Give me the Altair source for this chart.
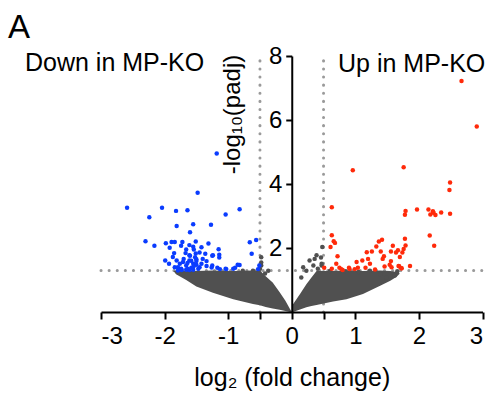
import altair as alt
import pandas as pd

# ---------------- data ----------------
down_x = [-2.59, -2.24, -2.04, -1.82, -1.64, -1.48, -1.18, -1.04, -0.82,
          -1.81, -1.55, -1.27, -1.60,
          -2.30, -2.16, -1.98, -1.89, -1.84, -1.72, -1.51, -1.31,
          -1.92, -1.74, -1.61, -1.42, -1.55,
          -0.66, -0.56, -1.15, -0.63,
          -1.66, -1.54, -1.85, -1.67, -1.51, -1.36, -1.24, -1.14, -1.14, -1.45,
          -1.99, -1.93, -1.81, -1.76, -1.70, -1.61, -1.50, -1.40, -1.34,
          -1.79, -1.66, -1.58, -1.45, -1.25, -1.17, -1.04, -0.92, -0.85, -0.89, -0.51, -0.53,
          -1.87, -1.84, -1.74, -1.66, -1.55, -1.50, -1.42, -1.55, -1.64, -1.71, -1.52, -1.61, -1.47,
          -1.79, -1.73, -1.64, -1.61, -1.54, -1.50, -1.34, -1.26, -1.13, -1.03, -0.82, -1.60, -1.58, -1.25]
down_y = [3.26, 2.96, 3.26, 3.16, 3.18, 3.73, 4.95, 3.05, 3.21,
          2.69, 2.74, 2.73, 2.49,
          2.21, 2.07, 2.15, 2.19, 2.19, 2.19, 2.20, 2.14,
          2.01, 2.07, 2.09, 2.02, 2.04,
          2.18, 2.25, 1.96, 1.82,
          1.95, 1.95, 1.84, 1.84, 1.83, 1.82, 1.77, 1.79, 1.70, 1.86,
          1.61, 1.51, 1.61, 1.51, 1.66, 1.61, 1.59, 1.66, 1.59,
          1.40, 1.45, 1.38, 1.40, 1.45, 1.38, 1.35, 1.35, 1.48, 1.38, 1.45, 1.34,
          1.72, 1.40, 1.35, 1.32, 1.32, 1.48, 1.51, 1.51, 1.53, 1.56, 1.71, 1.77, 1.35,
          1.30, 1.31, 1.35, 1.31, 1.44, 1.65, 1.44, 1.39, 1.34, 1.34, 1.47, 1.76, 1.60, 1.76]

up_x = [0.96, 1.76, 2.67, 2.91, 2.49, 2.48, 0.63,
        1.79, 1.78, 1.97, 2.15, 2.22, 2.23, 2.26, 2.18, 2.35, 2.49,
        2.17, 2.24,
        0.63, 0.66, 0.68, 0.61, 0.72, 0.70, 0.51, 0.63,
        0.75, 0.78, 0.80, 0.90, 0.91, 0.99, 1.02, 1.11, 1.04, 1.16,
        1.18, 1.26, 1.20, 1.23, 1.33, 1.37, 1.42, 1.40, 1.45, 1.43, 1.31, 1.46,
        1.56, 1.59, 1.64, 1.67, 1.70, 1.74, 1.76, 1.79, 1.78, 1.56, 1.54, 1.57,
        1.69, 1.72, 1.86, 1.68, 1.73]
up_y = [4.43, 4.52, 7.22, 5.80, 4.05, 3.81, 3.27,
        3.16, 3.04, 3.20, 3.20, 3.15, 3.10, 3.03, 3.05, 3.11, 3.07,
        2.39, 2.07,
        2.40, 2.21, 2.16, 2.03, 1.74, 1.51, 1.38, 1.35,
        1.38, 1.34, 1.31, 1.38, 1.34, 1.34, 1.56, 1.61, 1.38, 1.38,
        1.87, 1.89, 1.66, 1.51, 2.05, 2.20, 2.26, 1.89, 1.74, 1.66, 1.33, 1.42,
        1.89, 2.07, 1.86, 1.93, 1.72, 1.86, 1.97, 2.08, 2.29, 1.59, 1.48, 1.40,
        1.43, 1.37, 1.44, 1.44, 1.37]

ns_x = [-0.48, -0.48, -0.50, -0.48, -0.61, -0.77, -0.37, -0.42,
        0.28, 0.39, 0.46, 0.34, 0.41, 0.23, 0.15, 0.47, 0.48, 0.36, 0.47, 0.18,
        1.23, 1.39, 1.49, 1.62, 1.66, 1.05, 0.85, 0.60]
ns_y = [1.71, 1.45, 1.35, 1.55, 1.29, 1.29, 1.29, 1.20,
        1.61, 1.77, 1.70, 1.45, 1.35, 1.29, 1.08, 1.45, 2.03, 1.66, 1.51, 1.40,
        1.29, 1.19, 1.08, 1.14, 1.27, 1.25, 1.27, 1.28]

# dense cloud of non-significant genes, read as its outline
left_cloud_x = [-1.86, -1.82, -1.75, -1.66, -1.50, -1.24, -0.92, -0.61, -0.50, -0.41, -0.30, -0.19, -0.10, -0.03, 0.0]
left_cloud_lo = [1.28, 1.18, 1.10, 1.00, 0.80, 0.60, 0.40, 0.25, 0.21, 0.16, 0.11, 0.07, 0.03, 0.0, 0.0]
left_cloud_hi = [1.28, 1.30, 1.29, 1.30, 1.28, 1.30, 1.28, 1.30, 1.30, 1.12, 0.92, 0.62, 0.35, 0.10, 0.0]
right_cloud_x = [0.0, 0.02, 0.13, 0.23, 0.31, 0.39, 0.65, 0.86, 1.12, 1.39, 1.55, 1.65, 1.70]
right_cloud_lo = [0.0, 0.0, 0.08, 0.15, 0.19, 0.22, 0.33, 0.40, 0.56, 0.82, 0.98, 1.10, 1.20]
right_cloud_hi = [0.0, 0.24, 0.56, 0.87, 1.08, 1.28, 1.28, 1.30, 1.28, 1.30, 1.28, 1.25, 1.20]

x_domain = [-3, 3]
y_domain = [0, 8]
x_ticks = [-3, -2, -1, -0.5, 0, 0.5, 1, 2, 3]
y_ticks = [2, 4, 6, 8]
fc_cut = [-0.5, 0.5]
p_cut = [1.3]
panel_label = ["A"]
down_label = ["Down in MP-KO"]
up_label = ["Up in MP-KO"]

# ---------------- chart ----------------
W, H = 381.5, 256
FONT = "Liberation Sans"
GRAY = "#505050"
BLUE = "#0a3cff"
RED = "#ff2a0a"
DOT = "#9a9a9a"

xs = alt.Scale(domain=x_domain, nice=False, zero=False)
ys = alt.Scale(domain=y_domain, nice=False, zero=False)

hline_df = pd.DataFrame({"y": p_cut, "x": [x_domain[0]], "x2": [x_domain[1]]})
vline_df = pd.DataFrame({"x": fc_cut, "y": [y_domain[0]] * 2, "y2": [y_domain[1]] * 2})

cloud_df = pd.concat([
    pd.DataFrame({"x": left_cloud_x, "lo": left_cloud_lo, "hi": left_cloud_hi, "wing": "left"}),
    pd.DataFrame({"x": right_cloud_x, "lo": right_cloud_lo, "hi": right_cloud_hi, "wing": "right"}),
])
ns_df = pd.DataFrame({"x": ns_x, "y": ns_y})
down_df = pd.DataFrame({"x": down_x, "y": down_y})
up_df = pd.DataFrame({"x": up_x, "y": up_y})

x_axis = alt.Axis(values=x_ticks,
                  labelExpr="(datum.value == 0.5 || datum.value == -0.5) ? '' : '' + datum.value",
                  tickSize=7, tickWidth=2, domainWidth=2, domainColor="black", tickColor="black",
                  labelFont=FONT, labelFontSize=24, labelColor="black", labelPadding=5,
                  title="log₂ (fold change)", titleFont=FONT, titleFontSize=25,
                  titleFontWeight="normal", titleColor="black", titleY=73,
                  titleBaseline="alphabetic", grid=False, zindex=1)
y_axis = alt.Axis(values=y_ticks, orient="left", offset=-W / 2,
                  tickSize=6, tickWidth=2, domainWidth=2, domainColor="black", tickColor="black",
                  labelFont=FONT, labelFontSize=24, labelColor="black", labelPadding=4,
                  title="-log₁₀(padj)", titleFont=FONT, titleFontSize=24,
                  titleFontWeight="normal", titleColor="black", titleAngle=270,
                  titleX=-59, titleY=58, titleAlign="center", titleBaseline="middle",
                  grid=False, zindex=1)

X = lambda f: alt.X(f, scale=xs, axis=x_axis)
Y = lambda f: alt.Y(f, scale=ys, axis=y_axis)

hline = alt.Chart(hline_df).mark_rule(color=DOT, strokeWidth=3, strokeDash=[0.1, 8], strokeCap="round").encode(
    x=X("x:Q"), x2="x2:Q", y=Y("y:Q"))
vline = alt.Chart(vline_df).mark_rule(color=DOT, strokeWidth=3, strokeDash=[0.1, 8], strokeCap="round").encode(
    x=X("x:Q"), y=Y("y:Q"), y2="y2:Q")

cloud = alt.Chart(cloud_df).mark_area(color=GRAY, interpolate="linear", opacity=1).encode(
    x=X("x:Q"), y=Y("hi:Q"), y2="lo:Q", detail="wing:N")

def pts(df, color):
    return alt.Chart(df).mark_circle(color=color, size=20, opacity=1).encode(
        x=X("x:Q"), y=Y("y:Q"))

def label(txt, x, y, size):
    return alt.Chart(pd.DataFrame({"t": txt})).mark_text(
        font=FONT, fontSize=size, color="black", align="left", baseline="alphabetic").encode(
        text="t:N", x=alt.value(x), y=alt.value(y))

chart = alt.layer(
    hline, vline, cloud, pts(ns_df, GRAY), pts(down_df, BLUE), pts(up_df, RED),
    label(panel_label, -93, -18, 33),
    label(down_label, -76, 15, 25),
    label(up_label, 237, 16, 25),
).properties(
    width=W, height=H,
    autosize=alt.AutoSizeParams(type="none"),
    padding={"left": 101, "top": 56, "right": 492 - 101 - W, "bottom": 394 - 56 - H},
    background="white",
).configure_view(stroke=None)

chart.save("out.html", embed_options={"renderer": "svg", "actions": False})
